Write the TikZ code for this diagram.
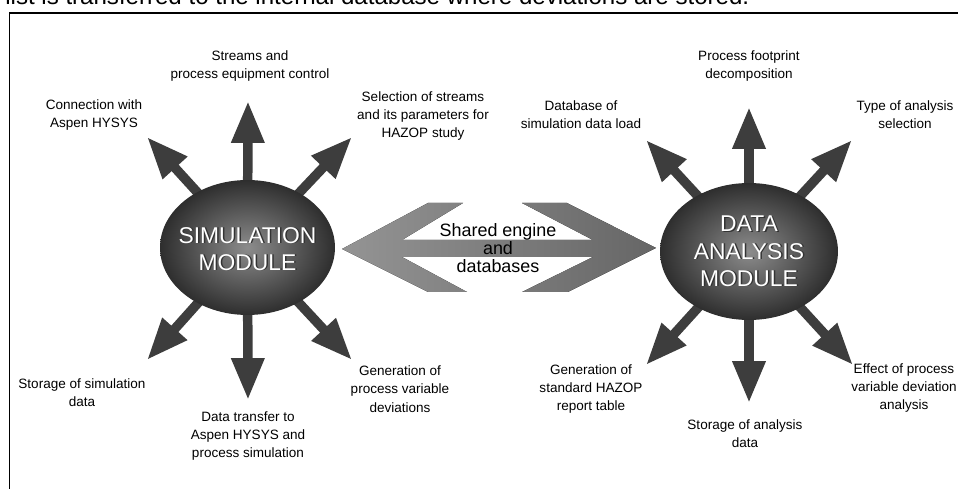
\documentclass[tikz,border=0pt]{standalone}
\usepackage{fontspec}
\setmainfont{Liberation Sans}
\usetikzlibrary{arrows.meta,shapes.geometric,backgrounds}
\definecolor{spoke}{HTML}{3D3D3D}

\begin{document}
\begin{tikzpicture}[x=0.02cm, y=-0.02cm,
    lbl/.style={align=center, inner sep=0pt, font=\fontsize{7.7}{10.4}\selectfont},
    spokearrow/.style={draw=spoke, line width=5.4pt, -{Triangle[length=23.8pt,width=17.6pt]}},
    module/.style={ellipse, inner sep=0pt, inner color=black!45, outer color=black!82},
    modtext/.style={align=center, inner sep=0pt, font=\fontsize{13}{15.6}\selectfont}]
    \useasboundingbox (0,0) rectangle (958,489);
    \clip (0,0) rectangle (958,489);

    % Page text and frame
    \node[anchor=base west, inner sep=0pt, font=\fontsize{13.7}{16}\selectfont] (pagetext) at (5,5)
        {list is transferred to the internal database where deviations are stored.};
    \draw[line width=0.9pt] (9.5,13) rectangle (990,520);

    % Shared engine double arrow
    \fill[left color=black!42, right color=black!60]
        (342,249) -- (428,203) -- (463,203) -- (402,240) -- (593,240) -- (522,203)
        -- (567,203) -- (656,248) -- (568,292) -- (522,292) -- (593,257) -- (402,257)
        -- (467,292) -- (428,292) -- cycle;
    \node[align=center, inner sep=0pt, font=\fontsize{10.2}{10.2}\selectfont] (shared) at (498,248)
        {Shared engine\\and\\databases};

    % Modules
    \node[module, minimum width=3.5cm, minimum height=2.7cm] (sim) at (247.5,247.5) {};
    \node[module, minimum width=3.56cm, minimum height=2.74cm] (dat) at (749,251.5) {};

    % Arrow ends
    \coordinate (s1) at (147,137);
    \coordinate (s2) at (248,101);
    \coordinate (s3) at (352,137);
    \coordinate (s4) at (147,360);
    \coordinate (s5) at (248,400);
    \coordinate (s6) at (352,360);
    \coordinate (d1) at (646,140);
    \coordinate (d2) at (749,107);
    \coordinate (d3) at (852,140);
    \coordinate (d4) at (646,365);
    \coordinate (d5) at (749,403);
    \coordinate (d6) at (853,365);

    % Arrows behind the modules
    \begin{pgfonlayer}{background}
        \foreach \i in {1,...,6} {
            \draw[spokearrow] (sim.center) -- (s\i);
            \draw[spokearrow] (dat.center) -- (d\i);
        }
    \end{pgfonlayer}

    % Module names with shadow
    \node[modtext, text=black!80] (simshd) at ([shift={(1.5,1.8)}]sim.center) {SIMULATION\\MODULE};
    \node[modtext, text=white] (simtxt) at ([shift={(0,1.5)}]sim.center) {SIMULATION\\MODULE};
    \node[modtext, text=black!80] (datshd) at ([shift={(1.5,0.3)}]dat.center) {DATA\\ANALYSIS\\MODULE};
    \node[modtext, text=white] (dattxt) at (dat.center) {DATA\\ANALYSIS\\MODULE};

    % Labels of the simulation module
    \node[lbl] (ls1) at (94,115) {Connection with\\Aspen HYSYS};
    \node[lbl] (ls2) at (250,66) {Streams and\\process equipment control};
    \node[lbl] (ls3) at (423,116) {Selection of streams\\and its parameters for\\HAZOP study};
    \node[lbl] (ls4) at (82,393) {Storage of simulation\\data};
    \node[lbl] (ls5) at (248,436) {Data transfer to\\Aspen HYSYS and\\process simulation};
    \node[lbl] (ls6) at (400,389) {Generation of\\process variable\\deviations};

    % Labels of the data analysis module
    \node[lbl] (ld1) at (581,115) {Database of\\simulation data load};
    \node[lbl] (ld2) at (749,66) {Process footprint\\decomposition};
    \node[lbl] (ld3) at (905,115) {Type of analysis\\selection};
    \node[lbl] (ld4) at (591,389) {Generation of\\standard HAZOP\\report table};
    \node[lbl] (ld5) at (745,434) {Storage of analysis\\data};
    \node[lbl] (ld6) at (904,388) {Effect of process\\variable deviation\\analysis};
\end{tikzpicture}
\end{document}
